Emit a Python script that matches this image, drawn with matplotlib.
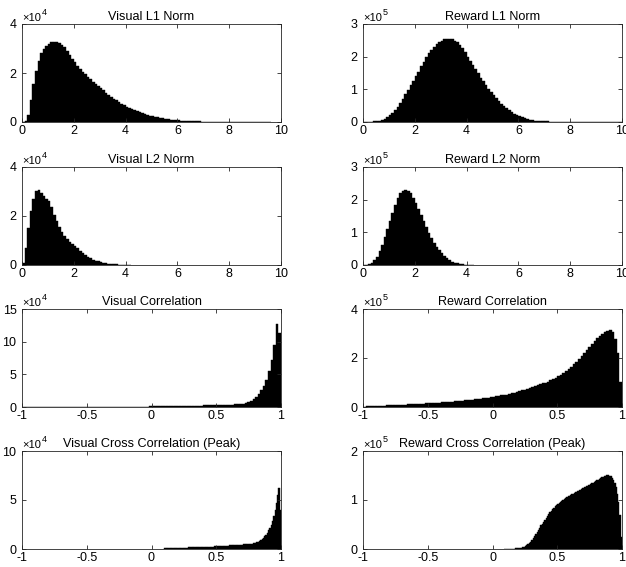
import numpy as np
import matplotlib
matplotlib.use('Agg')
import matplotlib.pyplot as plt

plt.rcParams['font.family'] = ['Liberation Sans', 'DejaVu Sans']

# Panel titles and axis settings
titles = ['Visual L1 Norm', 'Reward L1 Norm',
          'Visual L2 Norm', 'Reward L2 Norm',
          'Visual Correlation', 'Reward Correlation',
          'Visual Cross Correlation (Peak)', 'Reward Cross Correlation (Peak)']
exponents = [4, 5, 4, 5, 4, 5, 4, 5]
ymax = [4, 3, 4, 3, 15, 4, 10, 2]
yticks = [[0, 2, 4], [0, 1, 2, 3], [0, 2, 4], [0, 1, 2, 3],
          [0, 5, 10, 15], [0, 2, 4], [0, 5, 10], [0, 1, 2]]
norm_xticks = [0, 2, 4, 6, 8, 10]
corr_xticks = [-1, -0.5, 0, 0.5, 1]
corr_xlabels = ['-1', '-0.5', '0', '0.5', '1']

# Histogram bins: first bin edge and bin width per panel
bin_start = [0, 0, 0, 0, -1, -1, 0.10, 0.09]
bin_width = [0.1, 0.1, 0.1, 0.1, 0.02, 0.02, 0.01, 0.01]

# Bin counts, in units of 10^exponent
visual_l1 = [0.0, 0.05, 0.3, 0.9, 1.55, 2.1, 2.5, 2.8, 3.0, 3.12,
             3.2, 3.25, 3.28, 3.27, 3.23, 3.16, 3.06, 2.9, 2.74, 2.58,
             2.43, 2.3, 2.18, 2.06, 1.95, 1.84, 1.74, 1.64, 1.55, 1.46,
             1.38, 1.29, 1.2, 1.11, 1.03, 0.95, 0.88, 0.81, 0.74, 0.68,
             0.62, 0.57, 0.52, 0.47, 0.43, 0.39, 0.35, 0.32, 0.29, 0.26,
             0.23, 0.21, 0.19, 0.17, 0.15, 0.13, 0.115, 0.1, 0.09, 0.08,
             0.07, 0.06, 0.052, 0.045, 0.04, 0.035, 0.03, 0.026, 0.023, 0.02,
             0.018, 0.016, 0.015, 0.014, 0.013, 0.012, 0.011, 0.01, 0.01, 0.01,
             0.009, 0.009, 0.009, 0.008, 0.008, 0.008, 0.007, 0.007, 0.007, 0.006,
             0.006, 0.006, 0.006, 0.005, 0.005, 0.005]
reward_l1 = [0.0, 0.003, 0.006, 0.01, 0.016, 0.025, 0.04, 0.06, 0.09, 0.14,
             0.2, 0.27, 0.36, 0.46, 0.58, 0.71, 0.85, 0.99, 1.13, 1.27,
             1.4, 1.54, 1.7, 1.84, 1.98, 2.1, 2.21, 2.3, 2.38, 2.44,
             2.49, 2.53, 2.55, 2.55, 2.53, 2.49, 2.44, 2.37, 2.26, 2.14,
             2.0, 1.88, 1.75, 1.62, 1.49, 1.36, 1.24, 1.12, 1.01, 0.91,
             0.82, 0.73, 0.64, 0.56, 0.49, 0.42, 0.36, 0.3, 0.25, 0.21,
             0.17, 0.14, 0.11, 0.09, 0.07, 0.055, 0.043, 0.034, 0.027, 0.021,
             0.018, 0.016, 0.015, 0.014, 0.013, 0.013, 0.012, 0.012, 0.011, 0.011,
             0.011, 0.01, 0.01, 0.01, 0.01, 0.01, 0.009, 0.009, 0.009, 0.009,
             0.009, 0.009, 0.008, 0.008, 0.008, 0.008, 0.008, 0.008, 0.008, 0.008]
visual_l2 = [0.1, 0.7, 1.5, 2.2, 2.7, 3.0, 3.05, 2.95, 2.82, 2.7,
             2.6, 2.35, 2.05, 1.8, 1.55, 1.35, 1.2, 1.06, 0.95, 0.87,
             0.78, 0.68, 0.58, 0.49, 0.41, 0.33, 0.27, 0.22, 0.18, 0.15,
             0.12, 0.09, 0.07, 0.055, 0.045, 0.035, 0.027, 0.02, 0.015, 0.01,
             0.007, 0.005]
reward_l2 = [0.005, 0.01, 0.03, 0.07, 0.14, 0.26, 0.42, 0.62, 0.86, 1.1,
             1.35, 1.6, 1.84, 2.04, 2.19, 2.28, 2.30, 2.27, 2.19, 2.06,
             1.90, 1.71, 1.52, 1.35, 1.17, 0.99, 0.83, 0.68, 0.56, 0.45,
             0.36, 0.27, 0.20, 0.14, 0.10, 0.07, 0.05, 0.03, 0.02, 0.012,
             0.008, 0.005, 0.003]
visual_corr = [0.02] * 25 + \
    [0.03, 0.03, 0.03, 0.035, 0.035, 0.035, 0.04, 0.04, 0.04, 0.045,
     0.045, 0.05, 0.05, 0.05, 0.055, 0.055, 0.06, 0.06, 0.065, 0.065,
     0.07, 0.07, 0.075, 0.075, 0.08,
     0.09, 0.09, 0.10, 0.10, 0.11, 0.11, 0.12, 0.12, 0.13, 0.14,
     0.14, 0.15, 0.16, 0.17, 0.17, 0.18, 0.19, 0.20, 0.21, 0.22,
     0.23, 0.24, 0.26, 0.28, 0.29,
     0.30, 0.31, 0.32, 0.33, 0.34, 0.35, 0.37, 0.39, 0.43, 0.47,
     0.52, 0.60, 0.75, 0.95, 1.2, 1.55, 2.0, 2.55, 3.2, 4.1,
     5.5, 7.2, 9.5, 12.65, 11.3]
reward_corr = [0.02, 0.025, 0.03, 0.035, 0.04, 0.045, 0.05, 0.055, 0.06, 0.065,
               0.07, 0.075, 0.08, 0.085, 0.09, 0.095, 0.10, 0.105, 0.11, 0.115,
               0.12, 0.125, 0.13, 0.14, 0.15,
               0.155, 0.16, 0.17, 0.175, 0.18, 0.19, 0.2, 0.205, 0.21, 0.22,
               0.23, 0.24, 0.25, 0.26, 0.27, 0.28, 0.29, 0.3, 0.31, 0.32,
               0.335, 0.35, 0.365, 0.38, 0.395,
               0.41, 0.43, 0.45, 0.47, 0.49, 0.51, 0.53, 0.56, 0.59, 0.62,
               0.65, 0.68, 0.71, 0.74, 0.77, 0.80, 0.84, 0.88, 0.92, 0.96,
               1.0, 1.04, 1.09, 1.14, 1.19,
               1.25, 1.31, 1.38, 1.46, 1.55, 1.64, 1.74, 1.85, 1.96, 2.08,
               2.2, 2.33, 2.46, 2.58, 2.70, 2.81, 2.91, 2.98, 3.06, 3.12,
               3.14, 3.08, 2.78, 2.22, 1.02]
visual_xcorr = [0.10, 0.10, 0.10, 0.11, 0.11, 0.11, 0.12, 0.12, 0.12, 0.13,
                0.13, 0.13, 0.14, 0.14, 0.14, 0.15, 0.15, 0.15, 0.16, 0.16,
                0.17, 0.17, 0.18, 0.18, 0.19, 0.19, 0.20, 0.20, 0.21, 0.21,
                0.22, 0.22, 0.23, 0.23, 0.24, 0.24, 0.25, 0.25, 0.26, 0.27,
                0.28, 0.28, 0.29, 0.30, 0.30, 0.31, 0.32, 0.33, 0.34, 0.35,
                0.36, 0.37, 0.38, 0.39, 0.40, 0.41, 0.42, 0.43, 0.44, 0.45,
                0.45, 0.46, 0.47, 0.49, 0.50, 0.52, 0.54, 0.56, 0.58, 0.61,
                0.64, 0.69, 0.75, 0.82, 0.90, 1.0, 1.13, 1.28, 1.45, 1.65,
                1.9, 2.15, 2.5, 2.9, 3.4, 4.0, 4.7, 5.5, 6.2, 4.0]
reward_xcorr = [0.003, 0.004, 0.005, 0.006, 0.007, 0.008, 0.009, 0.01, 0.012, 0.014,
                0.016,
                0.02, 0.025, 0.03, 0.038, 0.048, 0.06, 0.075, 0.095, 0.12, 0.15,
                0.18, 0.22, 0.26, 0.30, 0.34, 0.38, 0.43, 0.48, 0.52, 0.56,
                0.60, 0.64, 0.68, 0.72, 0.75, 0.78, 0.81, 0.84, 0.87, 0.90,
                0.92, 0.94, 0.96, 0.98, 1.0, 1.02, 1.04, 1.06, 1.08, 1.09,
                1.10, 1.12, 1.13, 1.15, 1.16, 1.18, 1.19, 1.21, 1.22, 1.24,
                1.25, 1.26, 1.28, 1.29, 1.31, 1.32, 1.34, 1.35, 1.37, 1.38,
                1.40, 1.41, 1.43, 1.44, 1.46, 1.47, 1.49, 1.50, 1.51, 1.51,
                1.50, 1.48, 1.45, 1.41, 1.35, 1.26, 1.13, 0.95, 0.70, 0.25]

counts = [visual_l1, reward_l1, visual_l2, reward_l2,
          visual_corr, reward_corr, visual_xcorr, reward_xcorr]

fig = plt.figure(figsize=(6.26, 5.67), dpi=100)

# axes boxes in pixels of the 626x567 canvas
col_left = [22, 363]
row_bottom = [122, 265, 407, 549]
ax_w, ax_h = 259, 98

axis_color = '#262626'
for i in range(8):
    r, c = divmod(i, 2)
    ax = fig.add_axes([col_left[c] / 626, 1 - row_bottom[r] / 567,
                       ax_w / 626, ax_h / 567])
    vals = np.array(counts[i])
    centers = bin_start[i] + bin_width[i] * (np.arange(len(vals)) + 0.5)
    ax.bar(centers, vals, width=bin_width[i], color='black',
           edgecolor='black', linewidth=0.3)

    if r < 2:
        ax.set_xlim(0, 10)
        ax.set_xticks(norm_xticks)
        ax.set_xticklabels([str(t) for t in norm_xticks])
    else:
        ax.set_xlim(-1, 1)
        ax.set_xticks(corr_xticks)
        ax.set_xticklabels(corr_xlabels)
    ax.set_ylim(0, ymax[i])
    ax.set_yticks(yticks[i])
    ax.set_yticklabels([str(t) for t in yticks[i]])

    ax.tick_params(direction='in', length=3, width=0.6, top=True, right=True,
                   labelsize=9, colors=axis_color, labelcolor='black')
    ax.tick_params(axis='x', pad=2)
    ax.tick_params(axis='y', pad=4)
    for sp in ax.spines.values():
        sp.set_linewidth(0.6)
        sp.set_color(axis_color)

    ax.set_title(titles[i], fontsize=9.1, pad=3)
    # MATLAB style exponent label: x10 with superscript
    ax.annotate('\u00d710', xy=(0, 1), xycoords='axes fraction',
                xytext=(0.5, 2.2), textcoords='offset points',
                fontsize=8, ha='left', va='baseline')
    ax.annotate(str(exponents[i]), xy=(0, 1), xycoords='axes fraction',
                xytext=(14.3, 6.5), textcoords='offset points',
                fontsize=6.5, ha='left', va='baseline')

fig.savefig('out.png', dpi=100)
